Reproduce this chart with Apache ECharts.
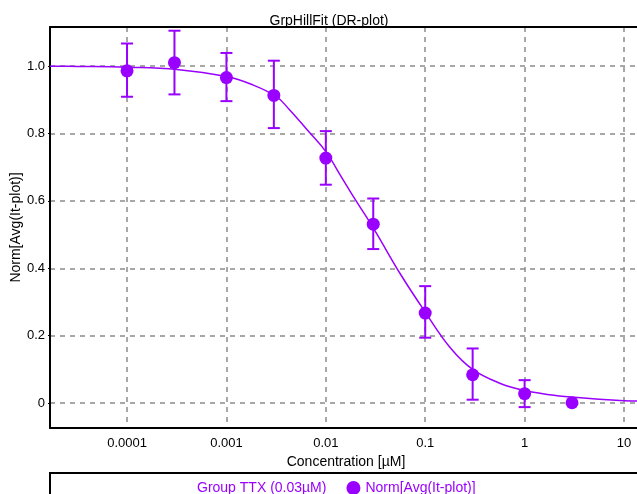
<!DOCTYPE html>
<html>
<head>
<meta charset="utf-8">
<script src="https://cdn.jsdelivr.net/npm/echarts@6/dist/echarts.min.js"></script>
<style>
html,body{margin:0;padding:0;background:#fff;overflow:hidden;width:637px;height:494px;}
#c{width:658px;height:494px;}
</style>
</head>
<body>
<div id="c"></div>
<script>
// Concentrations (µM) of measured points
const concentrations = [0.0001, 0.0003, 0.001, 0.003, 0.01, 0.03, 0.1, 0.3, 1, 3];
// Norm[Avg(It-plot)] mean values
const normValues = [0.986, 1.010, 0.966, 0.913, 0.727, 0.531, 0.267, 0.084, 0.028, 0.001];
// Error bar ends (null = no bar)
const errLow  = [0.909, 0.916, 0.896, 0.816, 0.648, 0.457, 0.194, 0.010, -0.012, null];
const errHigh = [1.067, 1.105, 1.039, 1.016, 0.807, 0.607, 0.347, 0.162, 0.068, null];
// Hill fit curve: log10(concentration) and response
const curveLogConc = [-4.775, -4.5, -4.0, -3.5, -3.0, -2.75, -2.5, -2.37, -2.17, -2.0, -1.835, -1.70, -1.523, -1.25, -1.0, -0.75, -0.523, -0.25, 0.0, 0.25, 0.5, 0.75, 1.0, 1.181];
const curveValues  = [0.9995, 0.999, 0.9967, 0.990, 0.969, 0.946, 0.910, 0.872, 0.805, 0.746, 0.667, 0.602, 0.520, 0.383, 0.270, 0.165, 0.100, 0.059, 0.037, 0.025, 0.017, 0.011, 0.007, 0.006];
// Tick positions (log10 of concentration) and labels
const xTickLog = [-4, -3, -2, -1, 0, 1];
const xTickLabels = ['0.0001', '0.001', '0.01', '0.1', '1', '10'];
const yTicks = [0, 0.2, 0.4, 0.6, 0.8, 1.0];
const yTickLabels = ['0', '0.2', '0.4', '0.6', '0.8', '1.0'];

const purple = '#9a00ff';
const font = "'Liberation Sans', Arial, sans-serif";

const pointData = concentrations.map((c, i) => [Math.log10(c), normValues[i]]);
const errData = concentrations.map((c, i) => [Math.log10(c), errLow[i], errHigh[i]]).filter(d => d[1] !== null);
const curveData = curveLogConc.map((l, i) => [l, curveValues[i]]);

const chart = echarts.init(document.getElementById('c'), null, {renderer: 'canvas'});
const xmin = -4.775, xmax = 1.181;
const gridLine = {show: true, lineStyle: {color: '#8c8c8c', width: 1.5, type: [5, 5]}};
chart.setOption({
  animation: false,
  backgroundColor: '#fff',
  textStyle: {fontFamily: font},
  title: {
    text: 'GrpHillFit (DR-plot)', left: 'center', top: 9,
    textStyle: {fontFamily: font, fontSize: 14, fontWeight: 'normal', color: '#000'}
  },
  grid: {left: 50, top: 27, right: 16, bottom: 66, containLabel: false, outerBoundsMode: 'none'},
  legend: {
    left: 173, top: 476, itemWidth: 14, itemHeight: 14, itemGap: 20,
    textStyle: {fontFamily: font, fontSize: 14, color: purple},
    data: [
      {name: 'Group TTX (0.03µM)', icon: 'none'},
      {name: 'Norm[Avg(It-plot)]', icon: 'circle'}
    ]
  },
  xAxis: [{
    type: 'value', min: xmin, max: xmax, position: 'bottom',
    name: 'Concentration [µM]', nameLocation: 'middle', nameGap: 27, nameMoveOverlap: false,
    nameTextStyle: {fontFamily: font, fontSize: 14, color: '#000'},
    axisLine: {show: true, onZero: false, lineStyle: {color: '#000', width: 2}},
    axisTick: {show: false, customValues: xTickLog},
    axisLabel: {
      fontFamily: font, fontSize: 13, color: '#000', margin: 9,
      customValues: xTickLog,
      formatter: v => xTickLabels[xTickLog.indexOf(Math.round(v))]
    },
    splitLine: gridLine
  }, {
    type: 'value', min: xmin, max: xmax, position: 'top',
    axisLine: {show: true, onZero: false, lineStyle: {color: '#000', width: 2}},
    axisTick: {show: false}, axisLabel: {show: false}, splitLine: {show: false}
  }],
  yAxis: {
    type: 'value', min: -0.074, max: 1.116,
    name: 'Norm[Avg(It-plot)]', nameLocation: 'middle', nameGap: 27, nameMoveOverlap: false,
    nameTextStyle: {fontFamily: font, fontSize: 14, color: '#000'},
    axisLine: {show: true, onZero: false, lineStyle: {color: '#000', width: 2}},
    axisTick: {show: true, length: 2, customValues: yTicks, lineStyle: {color: '#000'}},
    axisLabel: {
      fontFamily: font, fontSize: 13, color: '#000', margin: 5,
      customValues: yTicks,
      formatter: v => yTickLabels[Math.round(v / 0.2)]
    },
    splitLine: gridLine
  },
  graphic: [{
    type: 'rect', x: 0, y: 0, shape: {x: 50, y: 473, width: 640, height: 60},
    style: {fill: 'none', stroke: '#000', lineWidth: 2}, silent: true, z: 0
  }],
  series: [{
    name: 'Group TTX (0.03µM)', type: 'line', data: curveData, smooth: 0.4,
    showSymbol: false, symbol: 'none', lineStyle: {color: purple, width: 1.5}, itemStyle: {color: purple}, z: 2
  }, {
    name: 'Norm[Avg(It-plot)]', type: 'custom', data: errData, z: 3,
    renderItem: (params, api) => {
      const x = api.value(0);
      const lo = api.coord([x, api.value(1)]);
      const hi = api.coord([x, api.value(2)]);
      const hw = 6;
      const st = {stroke: purple, lineWidth: 2};
      return {type: 'group', children: [
        {type: 'line', shape: {x1: lo[0], y1: lo[1], x2: hi[0], y2: hi[1]}, style: st},
        {type: 'line', shape: {x1: lo[0] - hw, y1: lo[1], x2: lo[0] + hw, y2: lo[1]}, style: st},
        {type: 'line', shape: {x1: hi[0] - hw, y1: hi[1], x2: hi[0] + hw, y2: hi[1]}, style: st}
      ]};
    },
    itemStyle: {color: purple}
  }, {
    name: 'Norm[Avg(It-plot)]', type: 'scatter', data: pointData, symbol: 'circle', symbolSize: 13,
    itemStyle: {color: purple, opacity: 1}, z: 4
  }]
});
</script>
</body>
</html>
